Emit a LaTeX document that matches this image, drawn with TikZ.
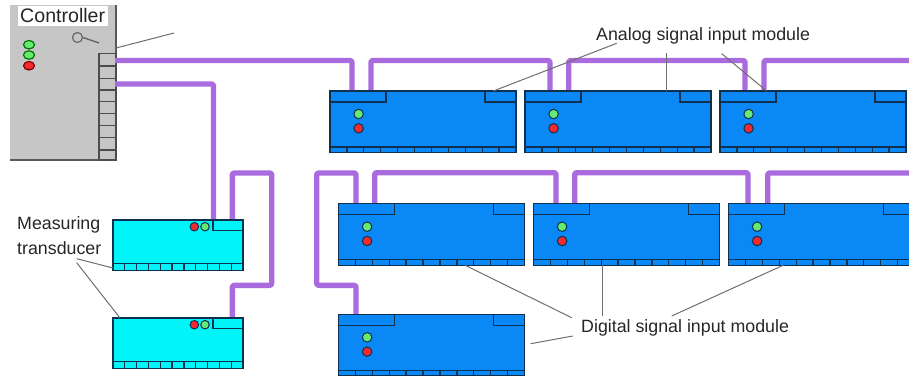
\documentclass[tikz,border=0pt]{standalone}
\usepackage{fontspec}
\usetikzlibrary{shapes.geometric}
\setmainfont{Liberation Sans}
\definecolor{busc}{HTML}{A96BDD}
\definecolor{modb}{HTML}{0A88F5}
\definecolor{modc}{HTML}{00F5F8}
\definecolor{edge}{HTML}{10304F}
\definecolor{ctrlg}{HTML}{C6C6C6}
\definecolor{leadg}{HTML}{6E6E6E}
\definecolor{ledg}{HTML}{66EA70}
\definecolor{ledr}{HTML}{F22A30}
\tikzset{
  x=1pt,y=-1pt,
  bluemodule/.style={draw=edge,fill=modb,line width=1.3pt,minimum width=186pt,minimum height=61.5pt,inner sep=0pt,outer sep=0pt,anchor=north west},
  cyanmodule/.style={draw=edge,fill=modc,line width=1.3pt,minimum width=130pt,minimum height=50.7pt,inner sep=0pt,outer sep=0pt,anchor=north west},
  detail/.style={draw=edge,line width=1.3pt},
  busline/.style={draw=busc,line width=5.4pt,rounded corners=2pt,line join=round},
  leader/.style={draw=leadg,line width=1pt},
  led/.style={circle,draw=edge,line width=1pt,minimum size=9.5pt,inner sep=0pt},
  ctrlled/.style={ellipse,line width=1.2pt,minimum width=11pt,minimum height=8.5pt,inner sep=0pt},
  lab/.style={font=\fontsize{17.8}{20}\selectfont,inner sep=0pt,text=black!85},
  termline/.style={draw=black!70,line width=1.3pt},
}
% #1 name, #2 x, #3 y
\newcommand{\bluemod}[3]{%
  \node[bluemodule] (#1) at (#2,#3) {};
  \draw[detail] ([yshift=-11pt]#1.north west) -- ++(56,0) -- ++(0,-11);
  \draw[detail] ([yshift=-11pt]#1.north east) -- ++(-31,0) -- ++(0,-11);
  \draw[detail] ([yshift=5.5pt]#1.south west) -- ([yshift=5.5pt]#1.south east);
  \foreach \k in {1,...,10}{\draw[detail] ([xshift=\k*16.91pt]#1.south west) -- ++(0,-5.5);}
  \node[led,fill=ledg] at ([xshift=28.6pt,yshift=-23pt]#1.north west) {};
  \node[led,fill=ledr] at ([xshift=28.6pt,yshift=-37.3pt]#1.north west) {};
}
\newcommand{\cyanmod}[3]{%
  \node[cyanmodule] (#1) at (#2,#3) {};
  \draw[detail] ([yshift=-10.5pt]#1.north east) -- ++(-30,0) -- ++(0,-10.5);
  \draw[detail] ([yshift=7.3pt]#1.south west) -- ([yshift=7.3pt]#1.south east);
  \foreach \k in {1,...,10}{\draw[detail] ([xshift=\k*11.82pt]#1.south west) -- ++(0,-7.3);}
  \node[led,fill=ledr,minimum size=8.5pt] at ([xshift=81.3pt,yshift=-6.7pt]#1.north west) {};
  \node[led,fill=ledg,minimum size=8.5pt] at ([xshift=92pt,yshift=-6.7pt]#1.north west) {};
}
\begin{document}
\begin{tikzpicture}
\useasboundingbox (0,0) rectangle (909,376);
% controller body
\node[fill=ctrlg,inner sep=0pt,outer sep=0pt,minimum width=106.5pt,minimum height=155pt,anchor=north west] (ctrl) at (9.5,5) {};
\draw[draw=black!65,line width=1.2pt] (ctrl.north east) -- (ctrl.south east) -- (ctrl.south west);
\node[fill=white,inner sep=0pt,minimum width=90pt,minimum height=20pt,anchor=north west] (ctrltitle) at (17.5,6) {};
\node[lab,font=\fontsize{19.6}{22}\selectfont] (ctrltext) at ([yshift=0.7pt]ctrltitle.center) {Controller};
\node[ctrlled,fill=ledg,draw=green!45!black] (g1) at (29,44.7) {};
\node[ctrlled,fill=ledg,draw=green!45!black] (g2) at (29,55) {};
\node[ctrlled,fill=ledr,draw=red!50!black] (r1) at (29,65.7) {};
\node[circle,draw=black!60,line width=1.2pt,minimum size=10pt,inner sep=0pt] (keyc) at (77.5,37.5) {};
\coordinate (keyend) at (99,43);
\draw[draw=black!60,line width=1.4pt] (keyc.east) -- (keyend);
\draw[termline] (99,53.5) rectangle (116,160);
\foreach \yy in {66,78.3,90,101.7,113.3,125.7,137.3,150}{\draw[termline] (99,\yy) -- (116,\yy);}
\coordinate (ctrlA) at (115,60.5);
\coordinate (ctrlB) at (115,84);
\coordinate (topedge) at (911,60.5);
\coordinate (midedge) at (911,173);
\path (330,91) coordinate (a1nw) (525,91) coordinate (a2nw) (720,91) coordinate (a3nw);
\path (338.5,203.7) coordinate (d1nw) (533.5,203.7) coordinate (d2nw) (728.5,203.7) coordinate (d3nw) (338.5,314.3) coordinate (d4nw);
\path (113,220) coordinate (t1nw) (113,318) coordinate (t2nw);
% buses
\draw[busline] (ctrlA) -| ([xshift=22pt,yshift=-2pt]a1nw);
\draw[busline] ([xshift=41pt,yshift=-2pt]a1nw) |- ++(90,-32.5) -| ([xshift=25pt,yshift=-2pt]a2nw);
\draw[busline] ([xshift=43.7pt,yshift=-2pt]a2nw) |- ++(90,-32.5) -| ([xshift=25pt,yshift=-2pt]a3nw);
\draw[busline] ([xshift=44pt,yshift=-2pt]a3nw) |- (topedge);
\draw[busline] (ctrlB) -| ([xshift=100.5pt,yshift=-2pt]t1nw);
\draw[busline] ([xshift=119.3pt,yshift=-2pt]t1nw) |- (271.7,173) |- (232.3,285.3) -- ([xshift=119.3pt,yshift=-2pt]t2nw);
\draw[busline] ([xshift=17.5pt,yshift=-2pt]d1nw) |- (316.7,173) |- (356,285.3) -- ([xshift=17.5pt,yshift=-2pt]d4nw);
\draw[busline] ([xshift=36.2pt,yshift=-2pt]d1nw) |- ++(90,-33) -| ([xshift=22.5pt,yshift=-2pt]d2nw);
\draw[busline] ([xshift=41.2pt,yshift=-2pt]d2nw) |- ++(90,-33) -| ([xshift=19.5pt,yshift=-2pt]d3nw);
\draw[busline] ([xshift=39.2pt,yshift=-2pt]d3nw) |- (midedge);
% modules
\bluemod{a1}{330}{91}
\bluemod{a2}{525}{91}
\bluemod{a3}{720}{91}
\bluemod{d1}{338.5}{203.7}
\bluemod{d2}{533.5}{203.7}
\bluemod{d3}{728.5}{203.7}
\bluemod{d4}{338.5}{314.3}
\cyanmod{t1}{113}{220}
\cyanmod{t2}{113}{318}
% labels
\node[lab,anchor=west] (analog) at (596,35.5) {Analog signal input module};
\node[lab,anchor=west] (digital) at (581,327.5) {Digital signal input module};
\node[lab,anchor=west] (meas1) at (17,225) {Measuring};
\node[lab,anchor=west] (meas2) at (17,248) {transducer};
% leader free ends
\coordinate (la1) at (616.7,43.3);
\coordinate (la2) at (666.7,53);
\coordinate (la3) at (721.7,53.7);
\coordinate (ld1) at (571.7,317.7);
\coordinate (ld2) at (602.7,316);
\coordinate (ld3) at (671.7,316);
\coordinate (ld4) at (572.7,336);
\coordinate (ld4b) at (530.7,343.7);
\coordinate (lm1) at (76.7,258.7);
\coordinate (lm2) at (76.7,262.7);
\coordinate (lc1) at (174,33);
\draw[leader] (la1) -- ([xshift=163.3pt]a1.north west);
\draw[leader] (la2) -- ([xshift=141.7pt]a2.north west);
\draw[leader] (la3) -- ([xshift=46.7pt]a3.north west);
\draw[leader] (ld1) -- ([xshift=126.5pt]d1.south west);
\draw[leader] (ld2) -- ([xshift=69.2pt]d2.south west);
\draw[leader] (ld3) -- ([xshift=54.8pt]d3.south west);
\draw[leader] (ld4) -- (ld4b);
\draw[leader] (lm1) -- ([yshift=2.7pt]t1.south west);
\draw[leader] (lm2) -- ([xshift=7pt]t2.north west);
\draw[leader] (lc1) -- (116,48);
\end{tikzpicture}
\end{document}
